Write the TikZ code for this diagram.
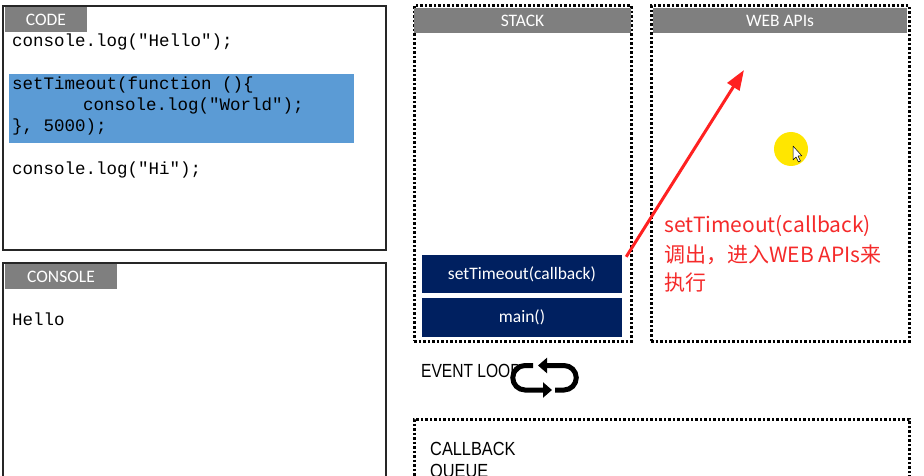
\documentclass[tikz,border=0pt]{standalone}
\usepackage{fontspec}
\usepackage{graphicx}
\setmainfont{Carlito}
\newfontfamily\codefont{Liberation Mono}
\newfontfamily\cjk{Noto Sans CJK SC}
\newfontfamily\arialfont{Liberation Sans}
\usetikzlibrary{arrows.meta}
\definecolor{hdrgray}{HTML}{7F7F7F}
\definecolor{hiblue}{HTML}{5B9BD5}
\definecolor{navyc}{HTML}{002060}
\definecolor{redtxt}{HTML}{F52A2A}
\definecolor{redarr}{HTML}{FF2121}
\definecolor{yelc}{HTML}{FFE600}
\begin{document}
\begin{tikzpicture}[x=1pt,y=-1pt,
  panel/.style={draw=black!85, line width=1.5pt, inner sep=0, rectangle},
  dotbox/.style={draw=black, line width=3pt, dash pattern=on 2.5pt off 2pt, inner sep=0, rectangle},
  hdr/.style={fill=hdrgray, text=white, inner sep=0, minimum height=25pt, font=\fontsize{17.5}{20}\selectfont},
  codeline/.style={anchor=base west, inner sep=0, font=\codefont\fontsize{17.5}{21}\selectfont},
  stk/.style={fill=navyc, text=white, inner sep=0, minimum width=200pt, font=\fontsize{17.5}{20}\selectfont},
  redlbl/.style={anchor=base west, inner sep=0, text=redtxt, font=\cjk\fontsize{21}{28}\selectfont},
  plainlbl/.style={anchor=base west, inner sep=0, font=\arialfont\fontsize{19}{22}\selectfont},
  loopline/.style={line width=5pt, -{Triangle[length=9pt,width=15pt]}}
]
\useasboundingbox[fill=white] (0,0) rectangle (924,476);

% CODE panel
\node[panel, minimum width=383pt, minimum height=244pt] (codebox) at (194.5,128) {};
\node[hdr, minimum width=82pt] (codehdr) at (46,19.5) {CODE};
\node[fill=hiblue, inner sep=0, minimum width=345pt, minimum height=69pt] (hilite) at (181.5,108.5) {};
\node[codeline] (c1) at (12,47) {console.log("Hello");};
\node[codeline] (c2) at (12,90) {setTimeout(function ()\{};
\node[codeline] (c3) at (83,111) {console.log("World");};
\node[codeline] (c4) at (12,132) {\}, 5000);};
\node[codeline] (c5) at (12,175) {console.log("Hi");};

% CONSOLE panel
\node[panel, minimum width=383pt, minimum height=227pt] (consolebox) at (194.5,376.5) {};
\node[hdr, minimum width=112pt] (conhdr) at (61,276.5) {CONSOLE};
\node[codeline] (out1) at (12,325) {Hello};

% STACK
\node[dotbox, minimum width=217pt, minimum height=335pt] (stackbox) at (522.5,173.5) {};
\node[hdr, minimum width=217pt] (stackhdr) at (522.5,20.5) {STACK};
\node[stk, minimum height=38pt] (st) at (522,274) {setTimeout(callback)};
\node[stk, minimum height=39pt] (mainf) at (522,317.5) {main()};

% WEB APIs
\node[dotbox, minimum width=258pt, minimum height=335pt] (webbox) at (780,173.5) {};
\node[hdr, minimum width=254pt] (webhdr) at (780,20.5) {WEB APIs};
\node[circle, fill=yelc, inner sep=0, minimum size=34pt] (spot) at (791,149) {};
\draw[fill=white, draw=black, line width=0.5pt, line join=round]
  (793,146) -- (793,160) -- (796,157) -- (798.5,162) -- (800.5,161) -- (798,156) -- (802,156) -- cycle;
\coordinate (apitip) at (744,70);
\draw[redarr, line width=3pt, -{Triangle[length=20pt,width=14pt]}] ([xshift=4pt,yshift=-2pt]st.north east) -- (apitip);
\node[redlbl] (r1) at (664,233) {setTimeout(callback)};
\node[redlbl] (r2) at (664,262) {调出，进入WEB APIs来};
\node[redlbl] (r3) at (664,290) {执行};

% EVENT LOOP
\node[plainlbl] (evl) at (421,377) {\scalebox{0.82}[1]{EVENT LOOP}};
\draw[loopline] (533,365.5) -- (525,365.5) arc[start angle=270, end angle=90, radius=12.25] -- (552,390);
\draw[loopline] (555,390) -- (564,390) arc[start angle=90, end angle=-90, radius=12.25] -- (538,365.5);

% CALLBACK QUEUE
\node[dotbox, minimum width=495pt, minimum height=81pt] (queuebox) at (661.5,459.5) {};
\node[plainlbl] (cq1) at (430,455) {\scalebox{0.86}[1]{CALLBACK}};
\node[plainlbl] (cq2) at (430,477) {\scalebox{0.86}[1]{QUEUE}};
\end{tikzpicture}
\end{document}
